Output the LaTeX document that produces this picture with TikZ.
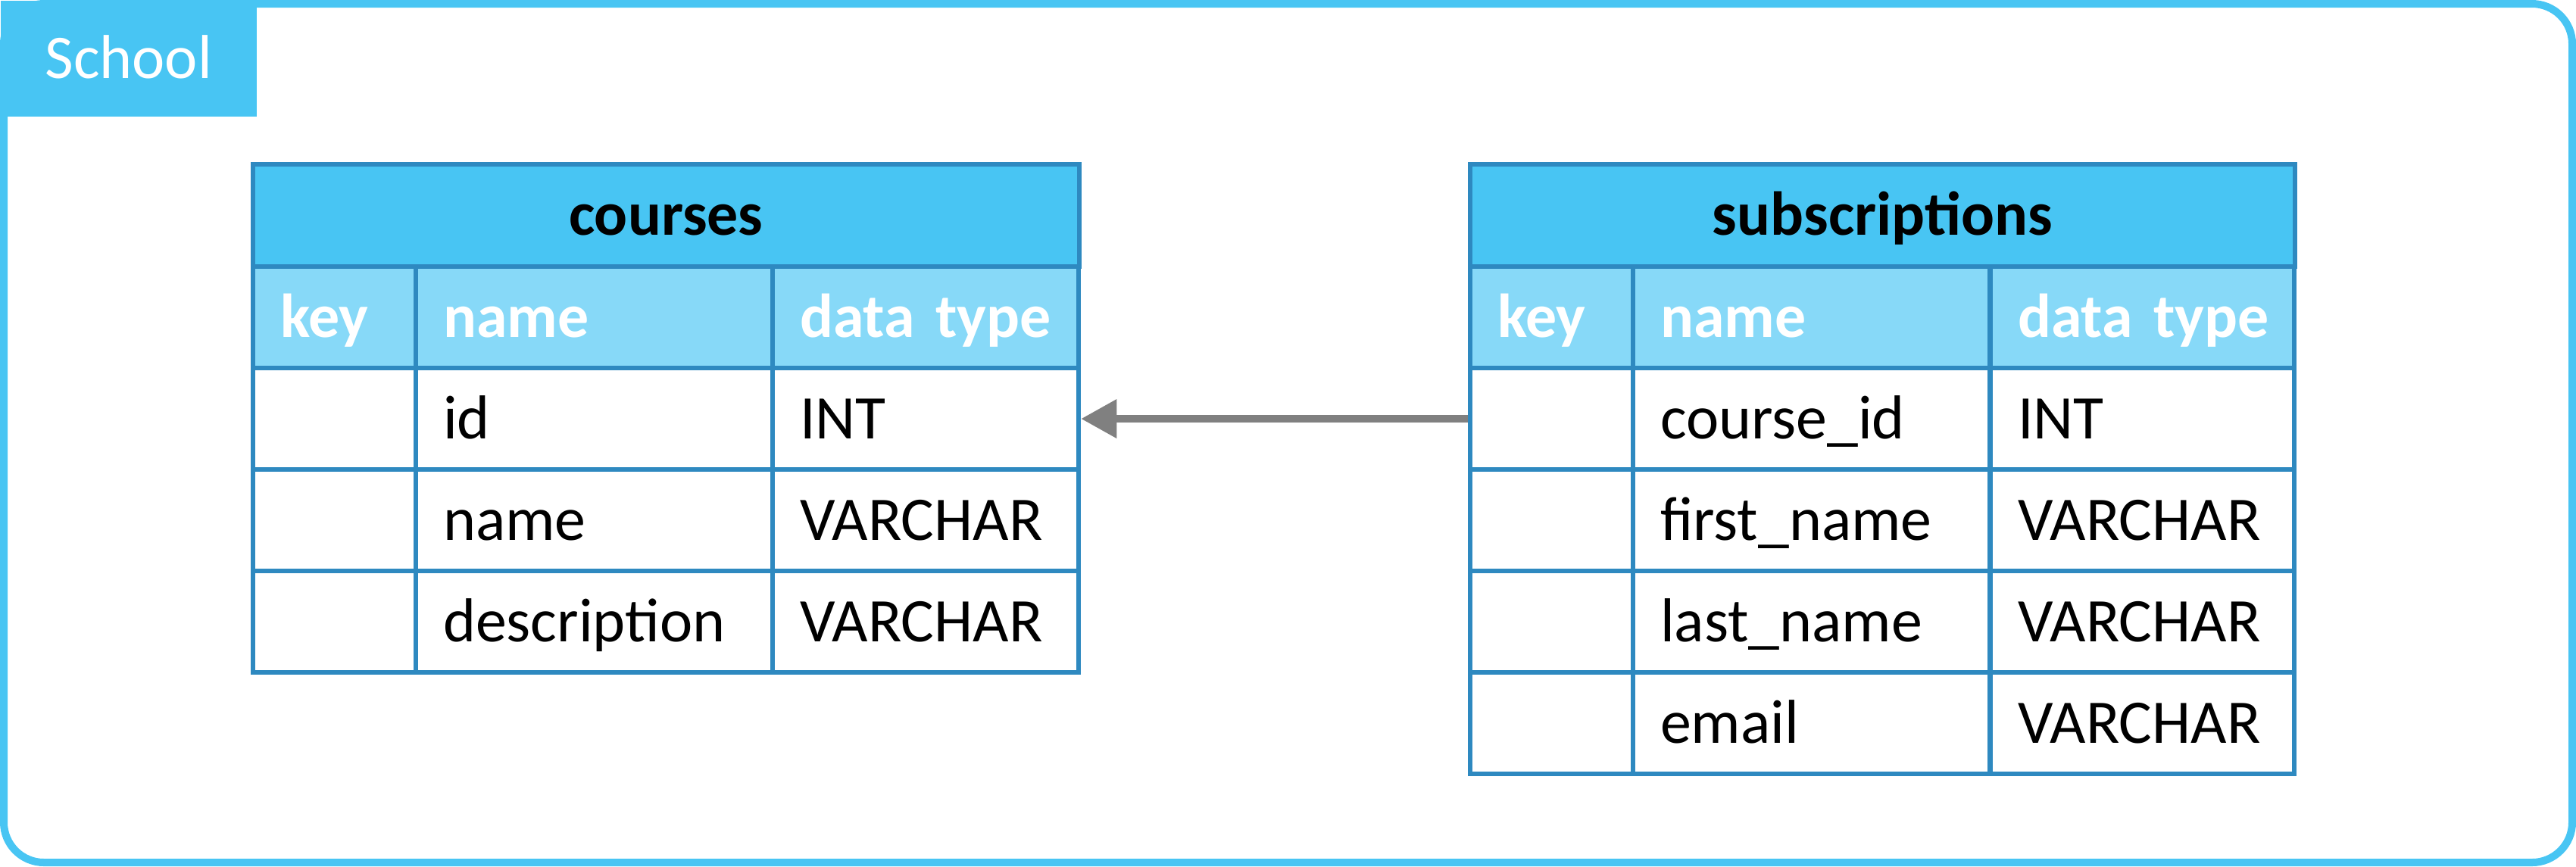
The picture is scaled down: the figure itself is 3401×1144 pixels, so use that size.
\documentclass[tikz,border=0pt]{standalone}
\usepackage{fontspec}
\setmainfont{Carlito}
\usetikzlibrary{arrows.meta}
\definecolor{frameblue}{HTML}{48C5F3}
\definecolor{headblue}{HTML}{48C5F3}
\definecolor{colhead}{HTML}{87D9F8}
\definecolor{tblborder}{HTML}{2E89C0}
\definecolor{arrowgray}{HTML}{808080}
\newcommand\erdfont{\fontsize{23.3pt}{28pt}\selectfont}
\begin{document}
\begin{tikzpicture}[x=0.01cm,y=-0.01cm,
  cellbase/.style={draw=tblborder, line width=0.06cm, anchor=north west,
    inner xsep=0.36cm, inner ysep=0pt, minimum height=1.34cm,
    text height=0.7cm, text depth=0.18cm, align=left, font=\erdfont},
  kcol/.style={cellbase, text width=1.43cm},
  ncol/.style={cellbase, text width=3.99cm},
  tcolA/.style={cellbase, text width=3.32cm},
  tcolB/.style={cellbase, text width=3.29cm},
  colh/.style={fill=colhead, text=white, font=\erdfont\bfseries},
  headcell/.style={draw=tblborder, line width=0.06cm, fill=headblue, anchor=north west,
    inner sep=0pt, minimum height=1.35cm, text height=0.7cm, text depth=0.18cm,
    font=\erdfont\bfseries},
  fk/.style={draw=arrowgray, line width=0.1cm, -{Triangle[length=0.47cm,width=0.49cm]}}
]
\useasboundingbox (0,0) rectangle (3401,1144);
% outer frame
\draw[frameblue, line width=0.1cm, rounded corners=0.53cm] (5,5) -- (3396,5) -- (3396,1139) -- (5,1139) -- cycle;
\node[fill=frameblue, anchor=north west, inner sep=0pt, minimum width=3.38cm, minimum height=1.53cm,
  text height=0.7cm, text depth=0.18cm, text=white, font=\erdfont] (label) at (0,0) {School};

% courses table
\node[headcell, minimum width=10.90cm] (c-head) at (331,214) {courses};
\node[kcol, colh] (c-kh) at (331,349) {key};
\node[ncol, colh] (c-nh) at (546,349) {name};
\node[tcolA, colh] (c-th) at (1017,349) {\mbox{data type}};
\node[kcol] (c-k1) at (331,483) {};
\node[ncol] (c-n1) at (546,483) {id};
\node[tcolA] (c-t1) at (1017,483) {INT};
\node[kcol] (c-k2) at (331,617) {};
\node[ncol] (c-n2) at (546,617) {name};
\node[tcolA] (c-t2) at (1017,617) {VARCHAR};
\node[kcol] (c-k3) at (331,751) {};
\node[ncol] (c-n3) at (546,751) {description};
\node[tcolA] (c-t3) at (1017,751) {VARCHAR};

% subscriptions table
\node[headcell, minimum width=10.88cm] (s-head) at (1938,214) {subscriptions};
\node[kcol, colh] (s-kh) at (1938,349) {key};
\node[ncol, colh] (s-nh) at (2153,349) {name};
\node[tcolB, colh] (s-th) at (2625,349) {\mbox{data type}};
\node[kcol] (s-k1) at (1938,483) {};
\node[ncol] (s-n1) at (2153,483) {course\_id};
\node[tcolB] (s-t1) at (2625,483) {INT};
\node[kcol] (s-k2) at (1938,617) {};
\node[ncol] (s-n2) at (2153,617) {first\_name};
\node[tcolB] (s-t2) at (2625,617) {VARCHAR};
\node[kcol] (s-k3) at (1938,751) {};
\node[ncol] (s-n3) at (2153,751) {last\_name};
\node[tcolB] (s-t3) at (2625,751) {VARCHAR};
\node[kcol] (s-k4) at (1938,885) {};
\node[ncol] (s-n4) at (2153,885) {email};
\node[tcolB] (s-t4) at (2625,885) {VARCHAR};

% foreign key connector
\draw[fk] (s-k1.west) -- (c-t1.east);
\end{tikzpicture}
\end{document}
